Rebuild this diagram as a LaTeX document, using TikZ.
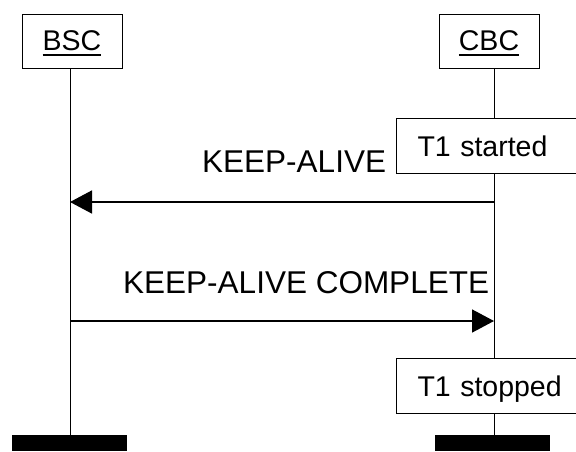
\documentclass[tikz,border=0pt]{standalone}
\usepackage{fontspec}
\setmainfont{Liberation Sans}
\usetikzlibrary{arrows.meta}

% underlined entity name
\newcommand{\entname}[1]{\setbox0\hbox{#1}\rlap{\rule[-6pt]{\wd0}{1.8pt}}\box0}

\tikzset{
    entity/.style={draw, line width=1pt, minimum width=100pt, minimum height=54pt, inner sep=0pt, text height=20pt, text depth=2pt, font=\fontsize{28.5}{34}\selectfont},
    timer/.style={draw, fill=white, line width=1pt, anchor=north west, minimum height=55pt, text width=180pt, inner xsep=21pt, align=left, text height=20pt, text depth=0pt, font=\fontsize{28.5}{34}\selectfont},
    endbar/.style={fill=black, minimum width=115pt, minimum height=16pt, inner sep=0pt},
    lifeline/.style={line width=1pt},
    msg/.style={line width=1.6pt, -{Triangle[length=22pt,width=23pt]}},
    msgtext/.style={anchor=base west, inner sep=0pt, font=\fontsize{31.5}{38}\selectfont}
}

\begin{document}
\begin{tikzpicture}[x=1pt, y=-1pt]

    \useasboundingbox (0,0) rectangle (576,451);
    \clip (0,0) rectangle (576,451);

    %% Keep-alive procedure

    % Entities
    \node[entity] (bsc) at (72,41) {\entname{BSC}};
    \node[entity] (cbc) at (489,41) {\entname{CBC}};

    % End bars
    \node[endbar] (bscend) at (69.5,443) {};
    \node[endbar] (cbcend) at (492,443) {};

    % Lifelines
    \coordinate (bscx) at (70,0);
    \coordinate (cbcx) at (494,0);
    \draw[lifeline] (bsc.south -| bscx) -- (bscend.north -| bscx);
    \draw[lifeline] (cbc.south -| cbcx) -- (cbcend.north -| cbcx);

    % Timers
    \node[timer] (tstart) at (396,118) {T1 started};
    \node[timer] (tstop) at (396,358) {T1 stopped};

    % Messages
    \coordinate (keepcbc) at (494,202);
    \coordinate (keepbsc) at (70,202);
    \draw[msg] (keepcbc) -- (keepbsc);
    \node[msgtext] (keeptxt) at (202,172) {KEEP-ALIVE};

    \coordinate (donebsc) at (70,321);
    \coordinate (donecbc) at (494,321);
    \draw[msg] (donebsc) -- (donecbc);
    \node[msgtext] (donetxt) at (123,293) {KEEP-ALIVE COMPLETE};

\end{tikzpicture}
\end{document}
